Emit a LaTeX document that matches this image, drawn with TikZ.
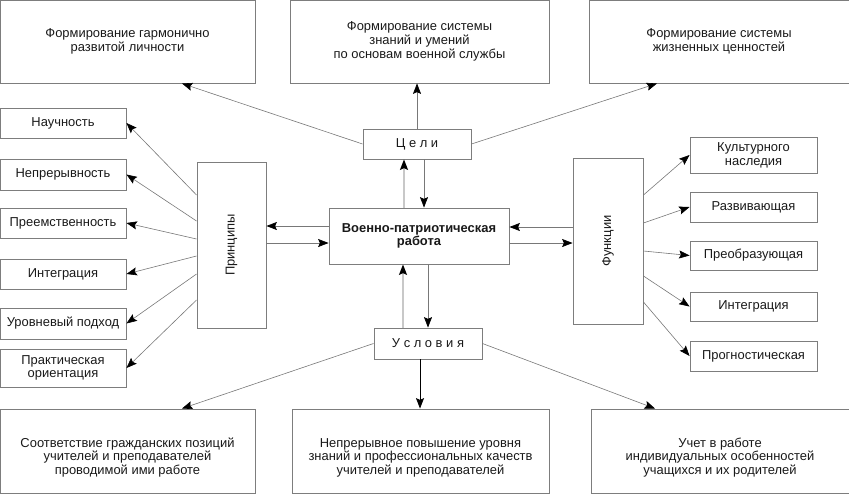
\documentclass[tikz,border=0pt]{standalone}
\usepackage{fontspec}
\setmainfont{Liberation Sans}
\usepackage{graphicx}
\usetikzlibrary{arrows.meta}
\definecolor{boxgray}{RGB}{125,125,125}
\definecolor{linegray}{RGB}{120,120,120}
\definecolor{palegray}{RGB}{200,200,200}
\definecolor{textgray}{RGB}{25,25,25}
\begin{document}
\begin{tikzpicture}[x=0.75pt, y=-0.75pt,
    >={Stealth[length=7.8pt,width=6pt,inset=1.3pt,color=black]},
    box/.style={draw=boxgray, line width=0.7pt, align=center, inner sep=1pt, text=textgray,
        font=\fontsize{9.7}{10.3}\selectfont},
    link/.style={->, draw=linegray, line width=0.45pt},
    uplink/.style={->, draw=palegray, line width=1.1pt}]
    \useasboundingbox (0,0) rectangle (849,493);

    % Goals (top row)
    \node[box, minimum width=191.25pt, minimum height=62.25pt] (gLich) at (127.5,41.5) {Формирование гармонично\\развитой личности};
    \node[box, minimum width=194.25pt, minimum height=62.25pt] (gZnan) at (419.5,41.5) {Формирование системы\\знаний и умений\\по основам военной службы};
    \node[box, minimum width=195pt, minimum height=62.25pt] (gCenn) at (719,41.5) {Формирование системы\\жизненных ценностей};

    % Centre
    \node[box, minimum width=135pt, minimum height=42pt, font=\fontsize{9.7}{10.3}\selectfont\bfseries] (vpr) at (419,236) {Военно-патриотическая\\работа};
    \node[box, minimum width=81pt, minimum height=22.5pt] (tsel) at (417,144) {Ц е л и};
    \node[box, minimum width=81pt, minimum height=23.25pt] (uslov) at (428,343.5) {У с л о в и я};

    % Principles (left side)
    \node[box, minimum width=51.75pt, minimum height=124.5pt] (prin) at (231.5,245) {\rotatebox{90}{Принципы}};
    \node[box, minimum width=94.5pt, minimum height=22.5pt] (pNauch) at (63,123) {Научность};
    \node[box, minimum width=94.5pt, minimum height=23.25pt] (pNepr) at (63,174.5) {Непрерывность};
    \node[box, minimum width=94.5pt, minimum height=22.5pt] (pPreem) at (63,223) {Преемственность};
    \node[box, minimum width=94.5pt, minimum height=22.5pt] (pIntegr) at (63,274) {Интеграция};
    \node[box, minimum width=94.5pt, minimum height=23.25pt] (pUrov) at (63,323.5) {Уровневый подход};
    \node[box, minimum width=94.5pt, minimum height=28.5pt] (pPrakt) at (63,368) {Практическая\\ориентация};

    % Functions (right side)
    \node[box, minimum width=52.5pt, minimum height=124.5pt] (funk) at (608,241) {\rotatebox{90}{Функции}};
    \node[box, minimum width=95.25pt, minimum height=27pt] (fKult) at (753.5,155) {Культурного\\наследия};
    \node[box, minimum width=95.25pt, minimum height=22.5pt] (fRazv) at (753.5,207) {Развивающая};
    \node[box, minimum width=95.25pt, minimum height=21.75pt] (fPreob) at (753.5,255.5) {Преобразующая};
    \node[box, minimum width=95.25pt, minimum height=21.75pt] (fIntegr) at (753.5,306.5) {Интеграция};
    \node[box, minimum width=95.25pt, minimum height=22.5pt] (fProgn) at (753.5,356) {Прогностическая};

    % Conditions (bottom row)
    \node[box, minimum width=191.25pt, minimum height=63pt] (uPoz) at (127.5,451) {\rule{0pt}{17pt}Соответствие гражданских позиций\\учителей и преподавателей\\проводимой ими работе};
    \node[box, minimum width=192.75pt, minimum height=63pt] (uKval) at (420.5,451) {\rule{0pt}{17pt}Непрерывное повышение уровня\\знаний и профессиональных качеств\\учителей и преподавателей};
    \node[box, minimum width=193.5pt, minimum height=63pt] (uUchet) at (720,451) {\rule{0pt}{17pt}Учет в работе\\индивидуальных особенностей\\учащихся и их родителей};

    % Goals links
    \draw[link] (tsel.west) -- (182,0 |- gLich.south);
    \draw[link] (tsel.north) -- (tsel.north |- gZnan.south);
    \draw[link] (tsel.east) -- (657,0 |- gCenn.south);
    \draw[uplink] (404,0 |- vpr.north) -- (404,0 |- tsel.south);
    \draw[link] (424,0 |- tsel.south) -- (424,0 |- vpr.north);

    % Conditions links
    \draw[link] (428,0 |- vpr.south) -- (428,0 |- uslov.north);
    \draw[uplink] (403,0 |- uslov.north) -- (403,0 |- vpr.south);
    \draw[link, draw=black, line width=0.6pt] (420,0 |- uslov.south) -- (420,0 |- uKval.north);
    \draw[link] (uslov.west) -- (182,0 |- uPoz.north);
    \draw[link] (uslov.east) -- (655,0 |- uUchet.north);

    % Principles links
    \draw[link] (vpr.west |- 0,226) -- (prin.east |- 0,226);
    \draw[link] (prin.east |- 0,243) -- (vpr.west |- 0,243);
    \draw[link] (prin.west |- 0,195) -- (pNauch.east);
    \draw[link] (prin.west |- 0,221) -- (pNepr.east);
    \draw[link] (prin.west |- 0,239) -- (pPreem.east);
    \draw[link] (prin.west |- 0,256) -- (pIntegr.east);
    \draw[link] (prin.west |- 0,274) -- (pUrov.east);
    \draw[link] (prin.west |- 0,300) -- (pPrakt.east);

    % Functions links
    \draw[link] (funk.west |- 0,227) -- (vpr.east |- 0,227);
    \draw[link] (vpr.east |- 0,243) -- (funk.west |- 0,243);
    \draw[link] (funk.east |- 0,195) -- (fKult.west);
    \draw[link] (funk.east |- 0,223) -- (fRazv.west);
    \draw[link] (funk.east |- 0,251) -- (fPreob.west);
    \draw[link] (funk.east |- 0,276) -- (fIntegr.west);
    \draw[link] (funk.east |- 0,302) -- (fProgn.west);
\end{tikzpicture}
\end{document}
